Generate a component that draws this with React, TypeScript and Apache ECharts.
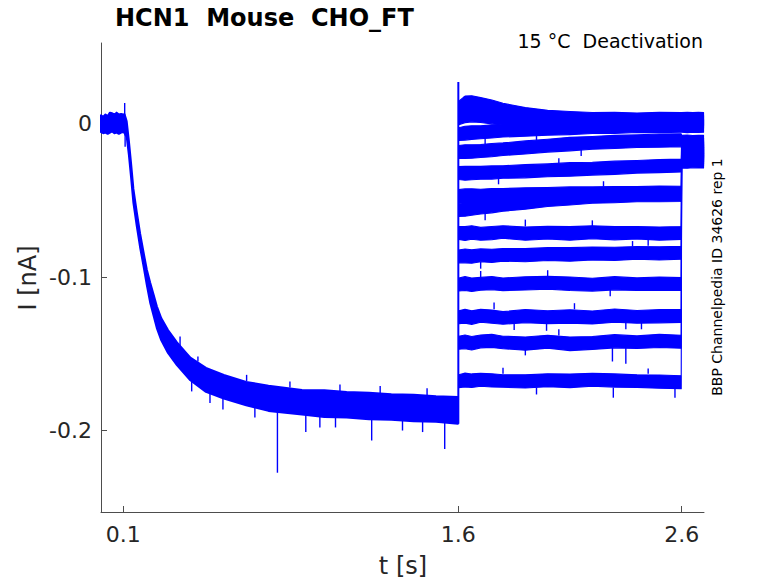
import React, { useEffect, useRef } from "react";
import * as echarts from "echarts";

// ---------- data ----------
const xTicks = [0.1, 1.6, 2.6];
const xTickLabels = ["0.1", "1.6", "2.6"];
const yTicks = [-0.2, -0.1, 0];
const yTickLabels = ["-0.2", "-0.1", "0"];

// main sweep (holding + activation step), upper / lower envelope of the noisy trace [nA]
const mainT = [0, 0.01, 0.02, 0.03, 0.04, 0.05, 0.06, 0.07, 0.08, 0.09, 0.1, 0.105, 0.11, 0.115, 0.125, 0.135, 0.145, 0.16, 0.175, 0.19, 0.205, 0.22, 0.235, 0.25, 0.27, 0.3, 0.34, 0.4, 0.47, 0.55, 0.65, 0.75, 0.9, 1.0, 1.1, 1.2, 1.3, 1.4, 1.5, 1.598];
const mainHi = [0.0055, 0.0045, 0.006, 0.005, 0.0072, 0.0068, 0.006, 0.0072, 0.006, 0.0064, 0.006, 0.0062, 0.004, 0.0015, -0.0115, -0.0265, -0.0425, -0.0575, -0.0715, -0.0835, -0.095, -0.1035, -0.1112, -0.119, -0.1268, -0.1345, -0.1425, -0.1525, -0.1592, -0.1638, -0.1683, -0.1708, -0.1735, -0.1738, -0.1749, -0.1753, -0.1764, -0.1766, -0.1777, -0.1781];
const mainLo = [-0.0055, -0.0062, -0.0058, -0.0066, -0.0058, -0.005, -0.0062, -0.0058, -0.0066, -0.0058, -0.0055, -0.006, -0.0075, -0.0085, -0.0205, -0.0355, -0.0515, -0.0665, -0.0805, -0.0925, -0.105, -0.1165, -0.1248, -0.1332, -0.1412, -0.1494, -0.1574, -0.1672, -0.1748, -0.1792, -0.1836, -0.1872, -0.1896, -0.1912, -0.1915, -0.1927, -0.193, -0.194, -0.1943, -0.1955];

// deactivation step: 13 sweeps, centre of each noisy trace [nA]
const tailT = [1.602, 1.63, 1.66, 1.7, 1.75, 1.8, 1.9, 2.0, 2.1, 2.2, 2.3, 2.4, 2.5, 2.598];
const tailNoise = [0.0042, 0.0045, 0.0044, 0.0042, 0.0043, 0.0041, 0.0043, 0.0042, 0.0044, 0.0042, 0.0043, 0.0041, 0.0043, 0.0042];
const tail1 = [0.0105, 0.0135, 0.0138, 0.0128, 0.0112, 0.0092, 0.0062, 0.0045, 0.0036, 0.0031, 0.0032, 0.0029, 0.0031, 0.003];
const tail2 = [0.0035, 0.0052, 0.0056, 0.005, 0.0042, 0.0033, 0.0022, 0.0016, 0.0012, 0.0011, 0.0013, 0.001, 0.0011, 0.0012];
const tail3 = [-0.0068, -0.0062, -0.0058, -0.0056, -0.005, -0.0046, -0.0038, -0.0033, -0.0027, -0.0022, -0.002, -0.0016, -0.0015, -0.0014];
const tail4 = [-0.0184, -0.0182, -0.0181, -0.0178, -0.0172, -0.0166, -0.0155, -0.0143, -0.0133, -0.0125, -0.0119, -0.0114, -0.011, -0.0108];
const tail5 = [-0.0322, -0.0323, -0.0321, -0.032, -0.0318, -0.0315, -0.031, -0.0304, -0.0298, -0.0293, -0.0287, -0.0281, -0.0276, -0.0273];
const tail6 = [-0.0471, -0.047, -0.0468, -0.0469, -0.0466, -0.0464, -0.0461, -0.0458, -0.0456, -0.0454, -0.0452, -0.0451, -0.0449, -0.045];
const tail7 = [-0.0562, -0.0558, -0.0553, -0.0547, -0.0538, -0.053, -0.0514, -0.0498, -0.0486, -0.0477, -0.0472, -0.0468, -0.0466, -0.0465];
const tail8 = [-0.0712, -0.0716, -0.0709, -0.0718, -0.0713, -0.0706, -0.0717, -0.071, -0.0715, -0.0708, -0.0714, -0.0711, -0.0716, -0.0712];
const tail9 = [-0.0865, -0.0862, -0.0866, -0.0858, -0.0861, -0.0855, -0.0857, -0.085, -0.0852, -0.0846, -0.0848, -0.0842, -0.0845, -0.0841];
const tail10 = [-0.1048, -0.1042, -0.105, -0.1044, -0.1039, -0.1047, -0.1041, -0.1036, -0.1043, -0.1049, -0.104, -0.1046, -0.1042, -0.1045];
const tail11 = [-0.1262, -0.1255, -0.1264, -0.1252, -0.1258, -0.1266, -0.1254, -0.1261, -0.1257, -0.1263, -0.1251, -0.1259, -0.1255, -0.1253];
const tail12 = [-0.1428, -0.1422, -0.1431, -0.1419, -0.1415, -0.1426, -0.1433, -0.1421, -0.1435, -0.1429, -0.1418, -0.1424, -0.1416, -0.1421];
const tail13 = [-0.1678, -0.1671, -0.1675, -0.1669, -0.1673, -0.1677, -0.168, -0.1672, -0.1676, -0.1669, -0.1674, -0.1678, -0.1681, -0.1685];

// return to holding after 2.6 s: level of each sweep [nA]
const postT = [2.6, 2.625, 2.65, 2.675, 2.698];
const postNoise = [0.0042, 0.0044, 0.0041, 0.0043, 0.0042];
const postLevels = [0.0031, 0.0012, -0.0014, -0.0118, -0.0135, -0.0152, -0.0163, -0.0178, -0.0192, -0.0206, -0.022, -0.0232, -0.0246];

// capacitive transient at the step to the deactivation potential
const transientT = [1.6, 1.6];
const transientV = [-0.1955, 0.0272];

// isolated noise spikes: time, one end, other end [nA]
const spikeT = [
  0.106, 0.108, 0.79, 0.917, 1.212, 1.539,
  0.406, 0.488, 0.546, 0.689, 0.98, 1.05, 1.35, 1.44,
  0.354, 0.434, 0.652, 0.846, 1.07, 1.25, 1.46,
  1.625, 1.66, 1.72, 1.95, 2.15, 2.05, 1.78, 2.25, 1.85, 1.72,
  1.9, 2.45, 2.2, 1.7, 2.38, 2.0, 2.28, 1.7,
  1.76, 2.12, 1.85, 1.995, 2.35, 2.42,
  2.05, 1.9, 2.29, 2.35,
  1.8, 2.45, 1.95, 2.294, 2.57,
];
const spikeA = [
  -0.002, -0.002, -0.18, -0.184, -0.186, -0.187,
  -0.166, -0.175, -0.178, -0.184, -0.19, -0.19, -0.192, -0.193,
  -0.145, -0.155, -0.168, -0.172, -0.175, -0.176, -0.178,
  0.012, 0.012, -0.0095, -0.011, -0.017, -0.026, -0.035, -0.041, -0.05, -0.0585,
  -0.067, -0.075, -0.067, -0.09, -0.08, -0.1, -0.108, -0.1,
  -0.121, -0.121, -0.13, -0.129, -0.129, -0.129,
  -0.138, -0.146, -0.146, -0.146,
  -0.163, -0.163, -0.172, -0.172, -0.172,
];
const spikeB = [
  0.0135, -0.015, -0.2275, -0.201, -0.2065, -0.212,
  -0.1745, -0.182, -0.1863, -0.1915, -0.198, -0.198, -0.2, -0.201,
  -0.1387, -0.1517, -0.1637, -0.168, -0.17, -0.171, -0.1725,
  0.0175, 0.018, -0.0135, -0.0075, -0.021, -0.0225, -0.0395, -0.0375, -0.0545, -0.063,
  -0.0625, -0.0795, -0.063, -0.0945, -0.0765, -0.0955, -0.1125, -0.096,
  -0.1165, -0.117, -0.1345, -0.135, -0.134, -0.134,
  -0.134, -0.151, -0.155, -0.1565,
  -0.159, -0.1595, -0.1765, -0.1786, -0.1786,
];

const tails = [tail1, tail2, tail3, tail4, tail5, tail6, tail7, tail8, tail9, tail10, tail11, tail12, tail13];

// ---------- styling ----------
const BLUE = "#0000ff";
const FONT = '"DejaVu Sans", "Liberation Sans", sans-serif';
const AXIS = "#4d4d4d";
const TXT = "#262626";

function bandSeries(name: string, pts: number[][], lw: number) {
  return {
    type: "custom",
    name,
    data: pts,
    encode: { x: 0, y: [1, 2] },
    silent: true,
    renderItem: (params: any, api: any) => {
      if (params.dataIndex !== 0) return null;
      const upper = pts.map((p) => api.coord([p[0], p[2]]));
      const lower = pts.map((p) => api.coord([p[0], p[1]])).reverse();
      return {
        type: "polygon",
        shape: { points: upper.concat(lower) },
        style: { fill: BLUE, stroke: BLUE, lineWidth: lw, lineJoin: "round" },
      };
    },
  };
}

export default function App() {
  const ref = useRef<HTMLDivElement>(null);

  useEffect(() => {
    if (!ref.current) return;
    const chart = echarts.init(ref.current, undefined, { renderer: "svg" });

    const mainPts = mainT.map((t, i) => [t, mainLo[i], mainHi[i]]);
    const tailSeries = tails.map((tr, k) => {
      const pts = tailT.map((t, j) => [t, tr[j] - tailNoise[j], tr[j] + tailNoise[j]]);
      postT.forEach((t, j) => pts.push([t, postLevels[k] - postNoise[j], postLevels[k] + postNoise[j]]));
      return bandSeries("sweep" + (k + 1), pts, 1.1);
    });
    const spikeData = spikeT.map((t, i) => [t, spikeA[i], spikeB[i]]);

    const option: any = {
      animation: false,
      backgroundColor: "#ffffff",
      grid: { left: 101, top: 43, width: 603, height: 469, containLabel: false },
      xAxis: {
        type: "value",
        min: 0,
        max: 2.7,
        axisLine: { show: true, onZero: false, lineStyle: { color: AXIS, width: 1 } },
        axisTick: { show: true, inside: true, length: 6, customValues: xTicks, lineStyle: { color: AXIS, width: 1 } },
        axisLabel: {
          show: true,
          customValues: xTicks,
          margin: 11,
          fontSize: 22,
          fontFamily: FONT,
          color: TXT,
          formatter: (v: number) => {
            const i = xTicks.findIndex((x) => Math.abs(x - v) < 1e-6);
            return i >= 0 ? xTickLabels[i] : "";
          },
        },
        splitLine: { show: false },
      },
      yAxis: {
        type: "value",
        min: -0.2531,
        max: 0.0526,
        axisLine: { show: true, onZero: false, lineStyle: { color: AXIS, width: 1 } },
        axisTick: { show: true, inside: true, length: 6, customValues: yTicks, lineStyle: { color: AXIS, width: 1 } },
        axisLabel: {
          show: true,
          customValues: yTicks,
          margin: 9,
          fontSize: 22,
          fontFamily: FONT,
          color: TXT,
          formatter: (v: number) => {
            const i = yTicks.findIndex((y) => Math.abs(y - v) < 1e-6);
            return i >= 0 ? yTickLabels[i] : "";
          },
        },
        splitLine: { show: false },
      },
      series: [
        bandSeries("main", mainPts, 2),
        ...tailSeries,
        {
          type: "line",
          name: "transient",
          data: transientT.map((t, i) => [t, transientV[i]]),
          symbol: "none",
          silent: true,
          lineStyle: { color: BLUE, width: 2 },
        },
        {
          type: "custom",
          name: "spikes",
          data: spikeData,
          encode: { x: 0, y: [1, 2] },
          silent: true,
          renderItem: (params: any, api: any) => {
            const a = api.coord([api.value(0), api.value(1)]);
            const b = api.coord([api.value(0), api.value(2)]);
            return {
              type: "line",
              shape: { x1: a[0], y1: a[1], x2: b[0], y2: b[1] },
              style: { stroke: BLUE, lineWidth: 1.4 },
            };
          },
        },
      ],
      graphic: [
        {
          type: "text",
          x: 115,
          y: 18,
          style: { text: "HCN1  Mouse  CHO_FT", font: `bold 24px ${FONT}`, fill: "#000000", textAlign: "left", textVerticalAlign: "middle" },
        },
        {
          type: "text",
          x: 703,
          y: 41,
          style: { text: "15 °C  Deactivation", font: `19px ${FONT}`, fill: "#000000", textAlign: "right", textVerticalAlign: "middle" },
        },
        {
          type: "text",
          x: 28,
          y: 278,
          rotation: Math.PI / 2,
          style: { text: "I [nA]", font: `24px ${FONT}`, fill: TXT, textAlign: "center", textVerticalAlign: "middle" },
        },
        {
          type: "text",
          x: 403,
          y: 566,
          style: { text: "t [s]", font: `24px ${FONT}`, fill: TXT, textAlign: "center", textVerticalAlign: "middle" },
        },
        {
          type: "text",
          x: 717,
          y: 277,
          rotation: Math.PI / 2,
          style: { text: "BBP Channelpedia ID 34626 rep 1", font: `14px ${FONT}`, fill: "#000000", textAlign: "center", textVerticalAlign: "middle" },
        },
      ],
    };

    chart.setOption(option);
    return () => chart.dispose();
  }, []);

  return (
    <div
      ref={ref}
      style={{ position: "absolute", left: 0, top: 0, width: 778, height: 583, background: "#ffffff" }}
    />
  );
}
